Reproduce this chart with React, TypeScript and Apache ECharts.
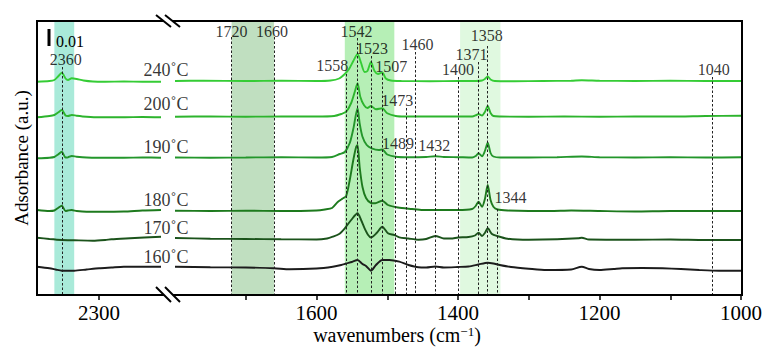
import React, { useEffect, useRef } from 'react';
import * as echarts from 'echarts';

const FONT = '"Liberation Serif", "Times New Roman", serif';

// Spectrum names and colours (top to bottom)
const temperatures = ['240˚C', '200˚C', '190˚C', '180˚C', '170˚C', '160˚C'];
const lineColors = ['#35cc35', '#2db42d', '#23962b', '#1d7a1d', '#1b531b', '#1c1c1c'];
const temperatureLabelLevels = [225, 191, 148, 95, 67, 38];

// Left segment (2400–2200 cm-1), absorbance in a.u. (offset spectra)
const left240 = [[2400, 213.3], [2380, 214], [2372, 215], [2366, 218.5], [2360, 222.3], [2354, 216.5], [2350, 215], [2344, 216.7], [2336, 216], [2325, 214.5], [2310, 213.5], [2290, 213.3], [2260, 213.5], [2230, 213.3], [2200, 213.3]];
const left200 = [[2400, 177.7], [2380, 179], [2372, 180], [2366, 182.5], [2360, 185], [2354, 179.5], [2350, 179], [2344, 180], [2336, 179.3], [2320, 178.3], [2300, 177.7], [2260, 177.7], [2230, 178], [2200, 177.7]];
const left190 = [[2400, 136.7], [2380, 137.3], [2372, 138], [2366, 140.5], [2360, 143.3], [2354, 137.5], [2350, 137.7], [2344, 139], [2336, 138.3], [2320, 137.5], [2300, 137.3], [2260, 137.3], [2230, 137.5], [2200, 137.3]];
const left180 = [[2400, 85], [2380, 84], [2372, 84.5], [2366, 87], [2360, 89.3], [2354, 84], [2350, 84.5], [2344, 85], [2336, 84], [2320, 83.3], [2300, 83.3], [2260, 83.5], [2230, 84.5], [2200, 85]];
const left170 = [[2400, 57.3], [2380, 56], [2360, 55], [2340, 54.7], [2310, 54.3], [2290, 55], [2280, 55.7], [2250, 56.7], [2200, 58.3]];
const left160 = [[2400, 28.3], [2380, 26.7], [2370, 25.5], [2360, 24.3], [2340, 24.3], [2320, 25.5], [2300, 26.7], [2280, 27.5], [2260, 28.3], [2200, 28.3]];

// Right segment (1800–1000 cm-1)
const right240 = [[1800, 214], [1760, 214.3], [1700, 214], [1650, 214.2], [1600, 214], [1580, 214.5], [1568, 216.5], [1560, 221], [1554, 226], [1548, 234], [1542, 241], [1537, 232], [1532, 223], [1528, 224], [1523, 233], [1518, 224], [1513, 221], [1507, 222.5], [1502, 216.5], [1495, 214.5], [1480, 214], [1440, 213.8], [1400, 214], [1375, 214], [1366, 214.5], [1362, 216], [1358, 218.5], [1354, 215.5], [1348, 214], [1320, 213.8], [1280, 214], [1240, 214.3], [1225, 214.8], [1200, 214.3], [1150, 214], [1100, 214.3], [1050, 214], [1000, 214]];
const right200 = [[1800, 178.3], [1750, 178.5], [1700, 178.3], [1650, 178.5], [1600, 178.5], [1575, 179], [1565, 181], [1558, 183.3], [1551, 192], [1546, 203], [1542, 211.7], [1538, 198], [1533, 190], [1528, 187], [1523, 189], [1516, 185.7], [1507, 186.7], [1500, 181.7], [1488, 179], [1475, 178.5], [1440, 178.5], [1400, 178.5], [1380, 178.5], [1374, 180], [1371, 181], [1366, 179.5], [1362, 183], [1358, 189], [1354, 182], [1350, 179], [1340, 178.5], [1300, 178.3], [1250, 178.5], [1200, 178.3], [1150, 178.5], [1100, 178.5], [1050, 179], [1000, 179.3]];
const right190 = [[1800, 137.5], [1750, 137.3], [1700, 137.5], [1650, 137.8], [1600, 137.5], [1578, 138], [1567, 141], [1560, 143], [1553, 152], [1548, 166], [1542, 186.7], [1539, 171.7], [1535, 158.3], [1529, 150], [1522, 146.7], [1512, 145], [1507, 145.5], [1500, 140.5], [1488, 138.3], [1470, 137.8], [1445, 138], [1432, 138.7], [1420, 138], [1400, 137.8], [1380, 137.5], [1375, 139], [1371, 141.7], [1366, 138.8], [1362, 144], [1358, 152.3], [1354, 142], [1350, 138.5], [1340, 137.5], [1300, 137.5], [1260, 137.8], [1225, 138.5], [1200, 137.8], [1150, 137.5], [1100, 137.8], [1050, 137.5], [1000, 137.7]];
const right180 = [[1800, 84.3], [1750, 84], [1700, 84.3], [1650, 84], [1600, 84.5], [1588, 85.5], [1578, 87], [1570, 93], [1563, 96.5], [1558, 99], [1553, 115], [1548, 135], [1544, 148], [1542, 150], [1539, 128], [1535, 108], [1530, 97], [1523, 92], [1517, 91.7], [1507, 94.3], [1499, 90], [1485, 87.5], [1465, 86], [1450, 85], [1420, 85], [1400, 85], [1380, 86], [1375, 89], [1371, 93.3], [1366, 88.3], [1362, 96], [1358, 110], [1354, 95], [1350, 88.3], [1344, 85.5], [1330, 84.5], [1300, 84], [1270, 84], [1240, 84.5], [1200, 84], [1150, 83.5], [1100, 84], [1050, 84], [1000, 84]];
const right170 = [[1800, 57], [1750, 56.3], [1700, 56], [1650, 55.7], [1600, 55.5], [1585, 56.5], [1577, 58.3], [1568, 61], [1560, 66.7], [1551, 75], [1542, 81.7], [1537, 75], [1532, 66.7], [1527, 60], [1523, 57.5], [1515, 62], [1507, 68.3], [1499, 61.7], [1490, 60], [1483, 57.7], [1470, 56.5], [1456, 55.3], [1445, 56], [1432, 59], [1420, 56.5], [1410, 56.5], [1400, 57.5], [1385, 58], [1376, 59.5], [1371, 62.3], [1366, 59], [1362, 62], [1358, 66.7], [1352, 61], [1345, 59], [1330, 56.3], [1300, 55.3], [1260, 55.7], [1230, 56.7], [1225, 57.3], [1215, 55.5], [1150, 55.3], [1100, 55.5], [1050, 55], [1000, 55]];
const right160 = [[1800, 28.3], [1750, 27.8], [1700, 27.5], [1660, 26.8], [1638, 25.7], [1600, 26.5], [1577, 28.3], [1565, 30], [1558, 31.5], [1550, 33], [1542, 35], [1535, 31], [1530, 29], [1523, 24.3], [1516, 30], [1507, 35], [1497, 35], [1483, 33.3], [1470, 30], [1456, 27.7], [1445, 27.5], [1432, 28.5], [1420, 27.5], [1400, 28], [1385, 28.5], [1371, 30.5], [1358, 32.3], [1350, 31.5], [1341, 30], [1325, 28], [1300, 26.3], [1275, 25], [1240, 25.5], [1225, 28.3], [1215, 26], [1200, 25], [1180, 26], [1168, 26.7], [1140, 27], [1111, 26.7], [1085, 26], [1059, 25], [1031, 24.3], [1000, 24.3]];

const leftSpectra = [left240, left200, left190, left180, left170, left160];
const rightSpectra = [right240, right200, right190, right180, right170, right160];

// Marked bands (cm-1)
const leftBand = [2372, 2340];
const rightBands = [[1720, 1660], [1560, 1490], [1397, 1340]];
const bandColors = ['#a9ead9', '#c0dfc0', '#b6efb6', '#e0f9e0'];

// Peak markers
const leftPeak = 2360;
const leftPeakTop = 228;
const leftPeakLabelLevel = 236;
const peakWavenumbers = [1720, 1660, 1558, 1542, 1523, 1507, 1489, 1473, 1460, 1432, 1400, 1371, 1358, 1344, 1040];
const peakLineTops = [258, 258, 221, 257, 239, 222, 143, 187, 243, 141, 218, 233, 249, 86, 218];
const peakLabelLevels = [264, 264, 230, 264, 247, 229, 152, 195, 251, 150, 226, 241, 260, 98, 226];
const peakLabelShifts = [0, -2, -14, -1, 1, 9, 3, -9, 2, -1, 0, -7, -1, 13, 1];

// Axis ticks
const leftTickLabels = [2300];
const rightTickLabels = [1000, 1200, 1400, 1600];
const rightTicks = [1000, 1100, 1200, 1300, 1400, 1500, 1600, 1700];

export default function App() {
  const ref = useRef<HTMLDivElement>(null);
  useEffect(() => {
    document.body.style.margin = '0';
    const chart = echarts.init(ref.current!, null, { renderer: 'svg' });
    const dashed = { type: [2.5, 2], width: 1, color: '#222' };
    const axisBase = (gi: number, min: number, max: number, labels: number[], ticks: number[]) => ({
      type: 'value', gridIndex: gi, min, max, inverse: true, interval: 100,
      axisLine: { show: false },
      splitLine: { show: false },
      axisTick: { show: true, customValues: ticks, length: 5, lineStyle: { color: '#000', width: 1.5 } },
      axisLabel: { show: true, customValues: labels, fontSize: 21, fontFamily: FONT, color: '#000', margin: 7,
        formatter: (v: number) => String(v) },
    });
    const series: any[] = [];
    series.push({
      type: 'line', xAxisIndex: 0, yAxisIndex: 0, data: [], z: 1,
      markArea: { silent: true, data: [[{ xAxis: leftBand[0], itemStyle: { color: bandColors[0] } }, { xAxis: leftBand[1] }]] },
      markLine: { silent: true, symbol: ['none', 'none'], label: { show: false }, lineStyle: dashed,
        data: [[{ coord: [leftPeak, leftPeakTop] }, { coord: [leftPeak, 0] }]] },
    });
    series.push({
      type: 'line', xAxisIndex: 1, yAxisIndex: 1, data: [], z: 1,
      markArea: { silent: true, data: rightBands.map((b, i) => [{ xAxis: b[0], itemStyle: { color: bandColors[i + 1] } }, { xAxis: b[1] }]) },
      markLine: { silent: true, symbol: ['none', 'none'], label: { show: false }, lineStyle: dashed,
        data: peakWavenumbers.map((w, i) => [{ coord: [w, peakLineTops[i]] }, { coord: [w, 0] }]) },
    });
    temperatures.forEach((t, i) => {
      series.push({ type: 'line', name: t + 'L', xAxisIndex: 0, yAxisIndex: 0, data: leftSpectra[i], showSymbol: false, smooth: 0.25, z: 3,
        lineStyle: { color: lineColors[i], width: 1.9 } });
      series.push({ type: 'line', name: t, xAxisIndex: 1, yAxisIndex: 1, data: rightSpectra[i], showSymbol: false, smooth: 0.25, z: 3,
        lineStyle: { color: lineColors[i], width: 1.9 } });
    });
    const labelStyle = { show: true, position: 'inside', formatter: '{b}', fontSize: 16, fontFamily: FONT, color: '#000' };
    series.push({
      type: 'scatter', xAxisIndex: 1, yAxisIndex: 1, symbolSize: 1, itemStyle: { color: 'rgba(0,0,0,0)' }, z: 5, label: labelStyle,
      data: peakWavenumbers.map((w, i) => ({ name: String(w), value: [w, peakLabelLevels[i]], label: { offset: [peakLabelShifts[i], 0] } })),
    });
    series.push({
      type: 'scatter', xAxisIndex: 0, yAxisIndex: 0, symbolSize: 1, itemStyle: { color: 'rgba(0,0,0,0)' }, z: 5, label: labelStyle,
      data: [{ name: String(leftPeak), value: [leftPeak, leftPeakLabelLevel], label: { offset: [4, 0] } }],
    });
    series.push({
      type: 'scatter', xAxisIndex: 1, yAxisIndex: 1, symbolSize: 1, itemStyle: { color: 'rgba(0,0,0,0)' }, z: 6,
      label: { ...labelStyle, fontSize: 18, offset: [-9, 0] },
      data: temperatures.map((t, i) => ({ name: t, value: [1800, temperatureLabelLevels[i]] })),
    });

    const slash = (x1: number, y1: number, x2: number, y2: number) => ({
      type: 'line', shape: { x1, y1, x2, y2 }, style: { stroke: '#000', lineWidth: 2 }, z: 20,
    });
    chart.setOption({
      animation: false,
      backgroundColor: '#fff',
      grid: [
        { left: 37, top: 21, width: 124, height: 274 },
        { left: 175, top: 21, width: 567, height: 274 },
      ],
      xAxis: [axisBase(0, 2200, 2400, leftTickLabels, leftTickLabels), axisBase(1, 1000, 1800, rightTickLabels, rightTicks)],
      yAxis: [
        { type: 'value', gridIndex: 0, min: 0, max: 274, show: false },
        { type: 'value', gridIndex: 1, min: 0, max: 274, show: false },
      ],
      series,
      graphic: [
        { type: 'rect', shape: { x: 37, y: 21, width: 705, height: 274 }, style: { fill: 'none', stroke: '#000', lineWidth: 2 }, z: 18 },
        { type: 'polygon', shape: { points: [[157, 15], [165, 15], [179, 27], [171, 27]] }, style: { fill: '#fff' }, z: 19 },
        { type: 'polygon', shape: { points: [[157, 287], [165, 287], [179, 302], [171, 302]] }, style: { fill: '#fff' }, z: 19 },
        slash(156, 15, 171, 27), slash(165, 15, 180, 27),
        slash(156, 287, 171, 302), slash(165, 287, 180, 302),
        { type: 'line', shape: { x1: 49, y1: 29, x2: 49, y2: 46 }, style: { stroke: '#000', lineWidth: 3 }, z: 20 },
        { type: 'text', x: 56, y: 41, style: { text: '0.01', font: `16px ${FONT}`, fill: '#000', textVerticalAlign: 'middle', textAlign: 'left' }, z: 20 },
        { type: 'text', x: 21, y: 158, rotation: Math.PI / 2,
          style: { text: 'Adsorbance (a.u.)', font: `19px ${FONT}`, fill: '#000', textAlign: 'center', textVerticalAlign: 'middle' }, z: 20 },
        { type: 'text', x: 397, y: 335,
          style: { text: 'wavenumbers (cm{sup|−1})', font: `20px ${FONT}`, fill: '#000', textAlign: 'center', textVerticalAlign: 'middle',
            rich: { sup: { fontSize: 13, fontFamily: FONT, verticalAlign: 'top', padding: [0, 0, 8, 0] } } }, z: 20 },
      ],
    });
    return () => chart.dispose();
  }, []);
  return <div ref={ref} style={{ width: 765, height: 349 }} />;
}
